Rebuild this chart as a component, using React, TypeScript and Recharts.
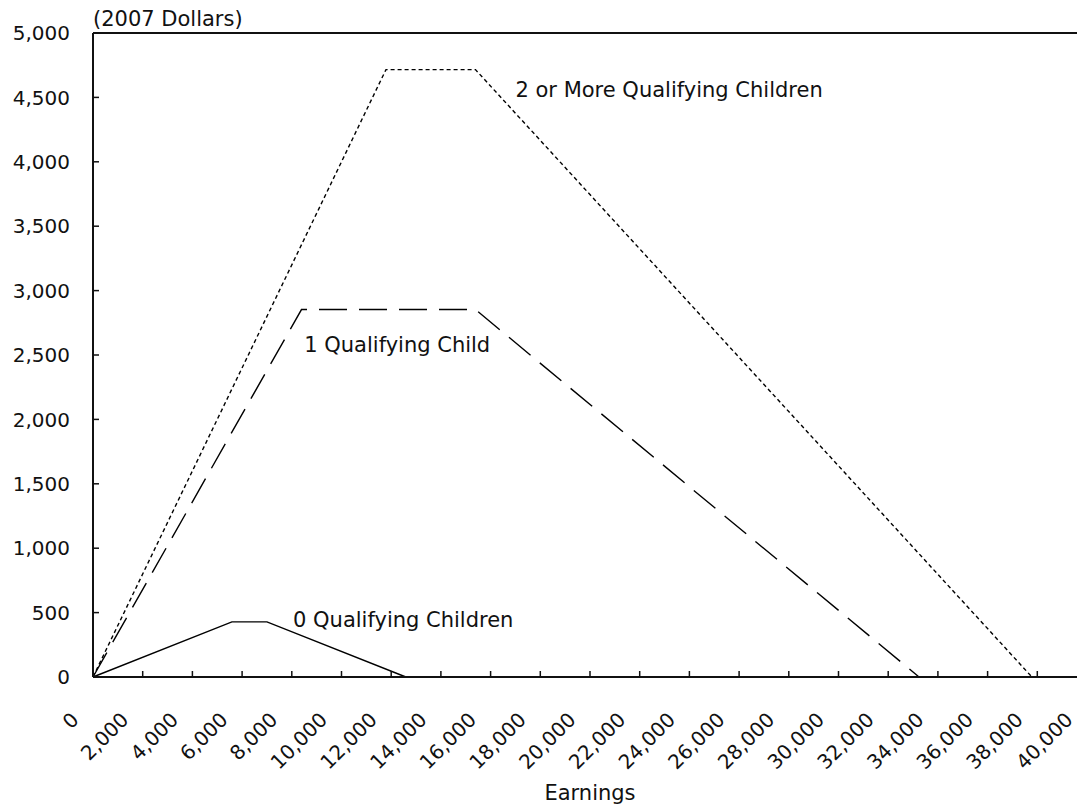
import { LineChart, Line, XAxis, YAxis, ReferenceLine, ReferenceDot, Label } from "recharts"

// EITC schedule, 2007 dollars
const earningsNone = [0, 5590, 7000, 12590]
const creditNone = [0, 428, 428, 0]

const earningsOne = [0, 8390, 15390, 33241]
const creditOne = [0, 2853, 2853, 0]

const earningsTwo = [0, 11790, 15390, 37783]
const creditTwo = [0, 4716, 4716, 0]

const xTicks = [
  0, 2000, 4000, 6000, 8000, 10000, 12000, 14000, 16000, 18000, 20000,
  22000, 24000, 26000, 28000, 30000, 32000, 34000, 36000, 38000, 40000,
]
const yTicks = [0, 500, 1000, 1500, 2000, 2500, 3000, 3500, 4000, 4500, 5000]

const toPoints = (xs: number[], ys: number[]) =>
  xs.map((earnings, i) => ({ earnings, credit: ys[i] }))

const noneData = toPoints(earningsNone, creditNone)
const oneData = toPoints(earningsOne, creditOne)
const twoData = toPoints(earningsTwo, creditTwo)

const FONT = "'DejaVu Sans', sans-serif"
const fmt = (v: number) => v.toLocaleString("en-US")

const XTick = (props: any) => {
  const { x, y, payload } = props
  const ax = x - 13
  return (
    <text
      x={ax}
      y={y}
      transform={`rotate(-45 ${ax} ${y})`}
      textAnchor="end"
      fontSize={20}
      fontFamily={FONT}
      fill="#111"
    >
      {fmt(payload.value)}
    </text>
  )
}

const note = (text: string) => (props: any) => {
  const { viewBox } = props
  return (
    <text x={viewBox.x} y={viewBox.y} fontSize={21} fontFamily={FONT} fill="#111">
      {text}
    </text>
  )
}

export default function App() {
  return (
    <div
      style={{
        position: "absolute",
        left: 0,
        top: 0,
        width: 1077,
        height: 809,
        overflow: "hidden",
        background: "#fff",
      }}
    >
      <LineChart
        width={1100}
        height={809}
        margin={{ top: 33, right: 13, left: 0, bottom: 0 }}
        style={{ fontFamily: FONT }}
      >
        <XAxis
          type="number"
          dataKey="earnings"
          domain={[0, 40000]}
          ticks={xTicks}
          interval={0}
          height={132}
          tickSize={-6}
          tickMargin={50}
          tick={<XTick />}
          axisLine={{ stroke: "#111", strokeWidth: 2 }}
          tickLine={{ stroke: "#111", strokeWidth: 1.5 }}
        >
          <Label
            value="Earnings"
            position="insideBottom"
            offset={9}
            style={{ fontSize: 21, fill: "#111", fontFamily: FONT }}
          />
        </XAxis>
        <YAxis
          type="number"
          domain={[0, 5000]}
          ticks={yTicks}
          interval={0}
          width={93}
          tickSize={-6}
          tickMargin={29}
          tickFormatter={fmt}
          tick={{ fontSize: 20, fill: "#111", fontFamily: FONT }}
          axisLine={{ stroke: "#111", strokeWidth: 2 }}
          tickLine={{ stroke: "#111", strokeWidth: 1.5 }}
        >
          <Label
            content={(p: any) => (
              <text
                x={p.viewBox.x + p.viewBox.width}
                y={p.viewBox.y - 7}
                fontSize={21}
                fontFamily={FONT}
                fill="#111"
              >
                (2007 Dollars)
              </text>
            )}
          />
        </YAxis>

        {/* top edge of the plot frame */}
        <ReferenceLine y={5000} stroke="#111" strokeWidth={2} />

        <Line
          data={twoData}
          dataKey="credit"
          stroke="#000"
          strokeWidth={1.4}
          strokeDasharray="4 3"
          dot={false}
          isAnimationActive={false}
        />
        <Line
          data={oneData}
          dataKey="credit"
          stroke="#000"
          strokeWidth={1.4}
          strokeDasharray="28 12"
          dot={false}
          isAnimationActive={false}
        />
        <Line
          data={noneData}
          dataKey="credit"
          stroke="#000"
          strokeWidth={1.4}
          dot={false}
          isAnimationActive={false}
        />

        {/* series annotations */}
        <ReferenceDot x={17000} y={4500} r={0} stroke="none" label={note("2 or More Qualifying Children")} />
        <ReferenceDot x={8500} y={2520} r={0} stroke="none" label={note("1 Qualifying Child")} />
        <ReferenceDot x={8050} y={390} r={0} stroke="none" label={note("0 Qualifying Children")} />
      </LineChart>
    </div>
  )
}
